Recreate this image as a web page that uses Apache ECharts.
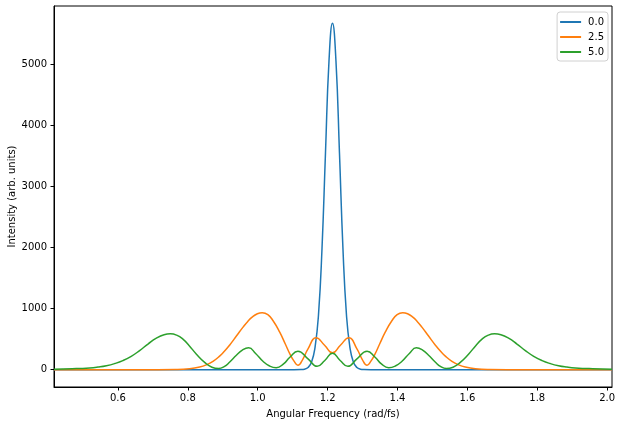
<!DOCTYPE html>
<html>
<head>
<meta charset="utf-8">
<script src="https://cdn.jsdelivr.net/npm/echarts@6/dist/echarts.min.js"></script>
<style>
html,body{margin:0;padding:0;background:#fff;}
#c{width:621px;height:425px;}
</style>
</head>
<body>
<div id="c"></div>
<script>
// Series names (legend labels)
const seriesNames = ['0.0', '2.5', '5.0'];
// Axis ticks
const xTicks = [0.6, 0.8, 1.0, 1.2, 1.4, 1.6, 1.8, 2.0];
const yTicks = [0, 1000, 2000, 3000, 4000, 5000];

// Series "0.0" (blue)
const freq0 = [0.417, 1.104, 1.124, 1.134, 1.144, 1.154, 1.164, 1.174, 1.184, 1.194, 1.204, 1.214,
  1.224, 1.234, 1.244, 1.254, 1.264, 1.274, 1.284, 1.294, 1.304, 1.324, 2.014];
const int0 = [0, 0, 2, 8, 35, 120, 360, 900, 1980, 3550, 5050, 5670,
  5050, 3550, 1980, 900, 360, 120, 35, 8, 2, 0, 0];

// Series "2.5" (orange)
const freq25 = [0.417, 0.614, 0.714, 0.764, 0.805, 0.834, 0.854, 0.872, 0.891, 0.904, 0.920, 0.939,
  0.958, 0.971, 0.984, 0.999, 1.013, 1.029, 1.044, 1.063, 1.079, 1.092, 1.104, 1.115, 1.129, 1.144, 1.167,
  1.192, 1.214, 1.236, 1.261, 1.284, 1.299, 1.313, 1.324, 1.336, 1.349, 1.365, 1.384, 1.399, 1.415,
  1.429, 1.444, 1.457, 1.470, 1.489, 1.508, 1.524, 1.537, 1.556, 1.574, 1.594, 1.623, 1.664, 1.714, 1.814, 2.014];
const int25 = [0, 0, 0, 2, 14, 42, 81, 137, 222, 296, 405, 550,
  696, 786, 860, 915, 932, 900, 800, 614, 420, 258, 140, 72, 170, 340, 521,
  395, 275, 395, 521, 340, 170, 72, 140, 258, 420, 614, 800, 900, 932,
  915, 860, 786, 696, 550, 405, 296, 222, 137, 81, 42, 14, 2, 0, 0, 0];

// Series "5.0" (green)
const freq5 = [0.417, 0.469, 0.519, 0.543, 0.567, 0.591, 0.614, 0.638, 0.662, 0.686, 0.710, 0.732,
  0.750, 0.768, 0.786, 0.804, 0.824, 0.849, 0.869, 0.888, 0.904, 0.920, 0.939, 0.956, 0.974, 0.994,
  1.015, 1.034, 1.053, 1.074, 1.092, 1.115, 1.144, 1.170, 1.192, 1.214,
  1.236, 1.258, 1.284, 1.313, 1.336, 1.354, 1.375, 1.394, 1.413, 1.434, 1.454, 1.472, 1.489, 1.508,
  1.524, 1.540, 1.559, 1.579, 1.604, 1.624, 1.642, 1.660, 1.678, 1.696, 1.718, 1.742, 1.766, 1.790,
  1.814, 1.837, 1.861, 1.885, 1.909, 1.959, 2.014];
const int5 = [8, 15, 28, 42, 64, 100, 148, 218, 312, 419, 515, 572,
  587, 565, 500, 392, 258, 115, 40, 20, 50, 125, 235, 320, 357, 265,
  137, 60, 32, 95, 203, 300, 176, 55, 150, 268,
  150, 55, 176, 300, 203, 95, 32, 60, 137, 265, 357, 320, 235, 125,
  50, 20, 40, 115, 258, 392, 500, 565, 587, 572, 515, 419, 312, 218,
  148, 100, 64, 42, 28, 15, 8];

const colors = ['#1f77b4', '#ff7f0e', '#2ca02c'];
const xs = [freq0, freq25, freq5];
const ys = [int0, int25, int5];

const font = 'DejaVu Sans';
const chart = echarts.init(document.getElementById('c'), null, {renderer: 'canvas'});
chart.setOption({
  animation: false,
  backgroundColor: '#ffffff',
  color: colors,
  grid: {left: 54, right: 9, top: 6, bottom: 38, show: true, borderColor: '#000', borderWidth: 1,
    backgroundColor: 'transparent', containLabel: false, outerBoundsMode: 'none'},
  legend: {
    right: 13, top: 12, orient: 'vertical',
    data: seriesNames.map(n => ({name: n, icon: 'rect'})),
    itemWidth: 21, itemHeight: 2, itemGap: 3,
    padding: [4, 4, 3, 3],
    borderColor: '#d0d0d0', borderWidth: 1, borderRadius: 3,
    backgroundColor: '#fff',
    textStyle: {fontFamily: font, fontSize: 10, color: '#000', lineHeight: 12, padding: [0, 0, 0, 2]}
  },
  xAxis: {
    type: 'value', min: 0.417, max: 2.014,
    name: 'Angular Frequency (rad/fs)', nameLocation: 'middle', nameGap: 22,
    nameTextStyle: {fontFamily: font, fontSize: 10, color: '#000'},
    axisLine: {show: true, onZero: false, lineStyle: {color: '#000', width: 1}},
    axisTick: {show: true, length: 3.5, lineStyle: {color: '#000'}, customValues: xTicks},
    axisLabel: {fontFamily: font, fontSize: 10, color: '#000', margin: 6, customValues: xTicks,
      formatter: v => v.toFixed(1)},
    splitLine: {show: false}
  },
  yAxis: {
    type: 'value', min: -284, max: 5954,
    name: 'Intensity (arb. units)', nameLocation: 'middle', nameGap: 37, nameMoveOverlap: false,
    nameTextStyle: {fontFamily: font, fontSize: 10, color: '#000'},
    axisLine: {show: true, onZero: false, lineStyle: {color: '#000', width: 1}},
    axisTick: {show: true, length: 3.5, lineStyle: {color: '#000'}, customValues: yTicks},
    axisLabel: {fontFamily: font, fontSize: 10, color: '#000', margin: 7, customValues: yTicks,
      formatter: v => String(v)},
    splitLine: {show: false}
  },
  series: seriesNames.map((n, i) => ({
    name: n, type: 'line', showSymbol: false, smooth: 0.5,
    lineStyle: {width: 1.5, color: colors[i]},
    itemStyle: {color: colors[i]},
    data: xs[i].map((x, j) => [x, ys[i][j]])
  }))
});
</script>
</body>
</html>
